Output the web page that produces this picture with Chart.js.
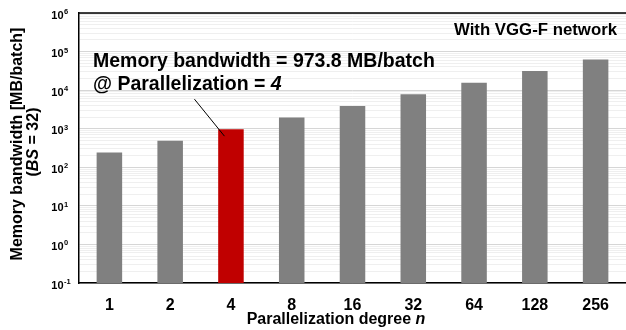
<!DOCTYPE html>
<html>
<head>
<meta charset="utf-8">
<script src="https://cdn.jsdelivr.net/npm/chart.js@4.4.1/dist/chart.umd.min.js"></script>
<style>
  html, body { margin: 0; padding: 0; background: #fff; }
  #wrap { width: 626px; height: 330px; }
</style>
</head>
<body>
<div id="wrap"><canvas id="bw-chart"></canvas></div>
<script>
const categories = ["1", "2", "4", "8", "16", "32", "64", "128", "256"];
const bandwidth = [243, 487, 974, 1948, 3895, 7790, 15581, 31162, 62323];
const yTickExps = [-1, 0, 1, 2, 3, 4, 5, 6];
const highlight = "4";

const FONT = "'Liberation Sans', Arial, sans-serif";

// log gridlines: 1..9 x 10^n between the first and last tick
const gridValues = [];
for (let e = yTickExps[0]; e < yTickExps[yTickExps.length - 1]; e++) {
    for (let s = 1; s <= 9; s++) gridValues.push(s * Math.pow(10, e));
}
gridValues.push(Math.pow(10, yTickExps[yTickExps.length - 1]));

function isDecade(v) {
    const l = Math.log10(v);
    return Math.abs(l - Math.round(l)) < 1e-9;
}

function drawPieces(ctx, pieces, x, y, align) {
    // pieces: [text, italic, size]
    const widths = pieces.map(p => {
        ctx.font = (p[1] ? "italic " : "") + "bold " + p[2] + "px " + FONT;
        return ctx.measureText(p[0]).width;
    });
    const total = widths.reduce((a, b) => a + b, 0);
    let cx = align === "center" ? x - total / 2 : (align === "right" ? x - total : x);
    ctx.textAlign = "left";
    pieces.forEach((p, i) => {
        ctx.font = (p[1] ? "italic " : "") + "bold " + p[2] + "px " + FONT;
        ctx.fillText(p[0], cx, y);
        cx += widths[i];
    });
}

const decorations = {
    id: "decorations",
    afterDraw(chart) {
        const ctx = chart.ctx;
        const area = chart.chartArea;
        const xs = chart.scales.x;
        const ys = chart.scales.y;
        ctx.save();
        ctx.fillStyle = "#000";
        ctx.strokeStyle = "#000";

        // top frame line
        ctx.lineWidth = 1.5;
        ctx.beginPath();
        ctx.moveTo(area.left, area.top);
        ctx.lineTo(chart.width, area.top);
        ctx.stroke();

        // y tick labels 10^n
        ctx.textBaseline = "alphabetic";
        yTickExps.forEach(e => {
            const y = ys.getPixelForValue(Math.pow(10, e));
            ctx.font = "bold 11px " + FONT;
            ctx.textAlign = "right";
            ctx.fillText("10", 63.5, y + 5.5);
            ctx.font = "bold 7.5px " + FONT;
            ctx.textAlign = "left";
            ctx.fillText(String(e), 64, y + 1);
        });

        // x tick labels
        ctx.font = "bold 16px " + FONT;
        ctx.textAlign = "center";
        categories.forEach((c, i) => {
            ctx.fillText(c, xs.getPixelForValue(i), 309.5);
        });

        // x title
        drawPieces(ctx, [["Parallelization degree ", false, 16], ["n", true, 16]], 336, 324, "center");

        // y title
        ctx.save();
        ctx.translate(22, 144);
        ctx.rotate(-Math.PI / 2);
        ctx.font = "bold 16px " + FONT;
        ctx.textAlign = "center";
        ctx.fillText("Memory bandwidth [MB/batch]", 0, 0);
        ctx.restore();
        ctx.save();
        ctx.translate(38, 142);
        ctx.rotate(-Math.PI / 2);
        drawPieces(ctx, [["(", false, 16], ["BS", true, 16], [" = 32)", false, 16]], 0, 0, "center");
        ctx.restore();

        // network label
        ctx.font = "bold 16.8px " + FONT;
        ctx.textAlign = "right";
        ctx.fillText("With VGG-F network", 617, 35);

        // annotation
        ctx.font = "bold 19.5px " + FONT;
        ctx.textAlign = "left";
        ctx.fillText("Memory bandwidth = 973.8 MB/batch", 93, 67);
        drawPieces(ctx, [["@ Parallelization = ", false, 19.5], ["4", true, 19.5]], 93, 90, "left");

        const hi = categories.indexOf(highlight);
        const bx = xs.getPixelForValue(hi);
        const by = ys.getPixelForValue(bandwidth[hi]);
        ctx.lineWidth = 1;
        ctx.beginPath();
        ctx.moveTo(bx - 36.5, by - 30);
        ctx.lineTo(bx - 6.5, by + 7);
        ctx.stroke();

        ctx.restore();
    }
};

new Chart(document.getElementById("bw-chart"), {
    type: "bar",
    data: {
        labels: categories,
        datasets: [{
            data: bandwidth,
            backgroundColor: categories.map(c => c === highlight ? "#c00000" : "#808080"),
            barPercentage: 0.42,
            categoryPercentage: 1
        }]
    },
    options: {
        responsive: true,
        maintainAspectRatio: false,
        animation: false,
        devicePixelRatio: 1,
        layout: { padding: { top: 13, right: -2, left: 0, bottom: 0 } },
        plugins: {
            legend: { display: false },
            tooltip: { enabled: false }
        },
        scales: {
            x: {
                grid: { display: false, drawTicks: false },
                border: { color: "#000", width: 1.5 },
                ticks: { display: false },
                afterFit: s => { s.height = 47; }
            },
            y: {
                type: "logarithmic",
                min: Math.pow(10, yTickExps[0]),
                max: Math.pow(10, yTickExps[yTickExps.length - 1]),
                afterBuildTicks: s => { s.ticks = gridValues.map(v => ({ value: v })); },
                ticks: { display: false, autoSkip: false },
                grid: {
                    drawTicks: false,
                    color: c => isDecade(c.tick.value) ? "#d6d6d6" : "#efefef",
                    lineWidth: 1
                },
                border: { color: "#000", width: 1.5 },
                afterFit: s => { s.width = 79; }
            }
        }
    },
    plugins: [decorations]
});
</script>
</body>
</html>
